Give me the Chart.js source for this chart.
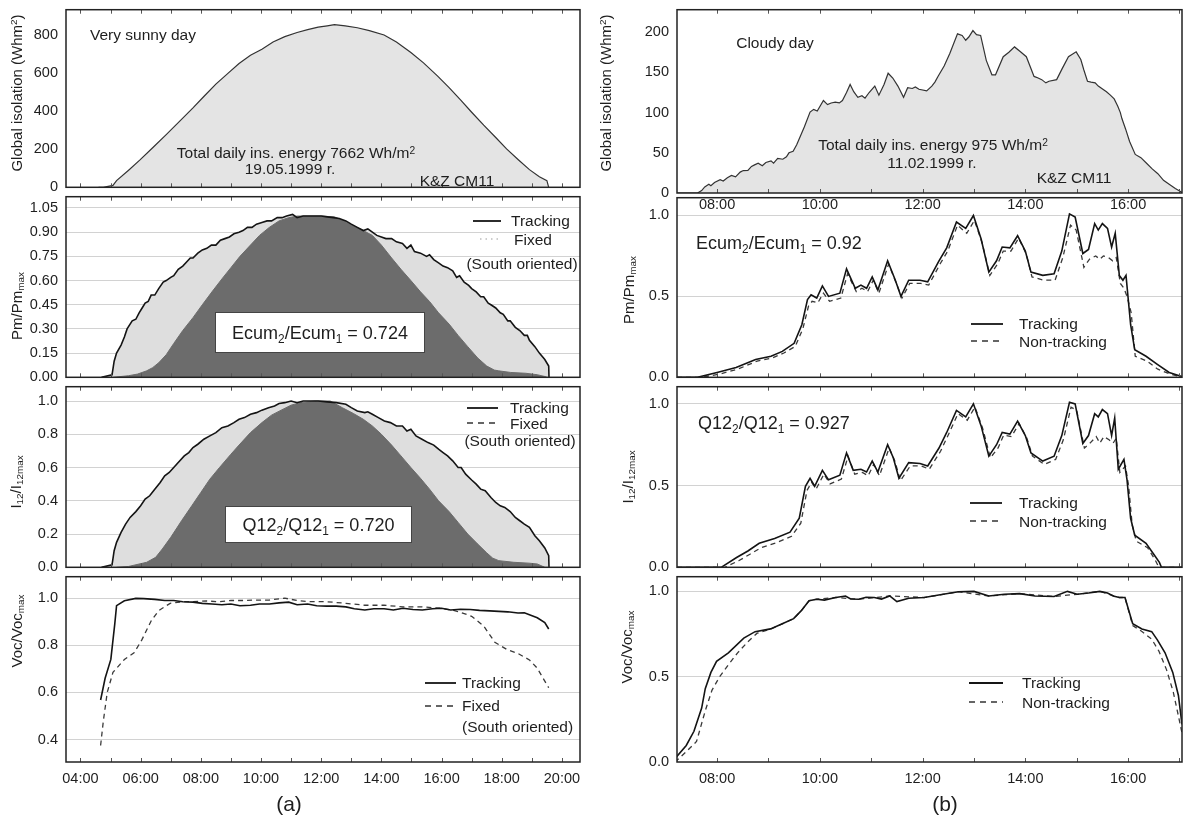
<!DOCTYPE html>
<html>
<head>
<meta charset="utf-8">
<title>Tracking vs fixed PV module — sunny and cloudy day</title>
<script src="https://cdn.jsdelivr.net/npm/chart.js@4.4.1/dist/chart.umd.min.js"></script>
<style>
  html, body { margin: 0; padding: 0; }
  body {
    width: 1187px; height: 819px; overflow: hidden; position: relative;
    background: #ffffff; color: #1e1e1e;
    font-family: "Liberation Sans", Arial, Helvetica, sans-serif;
  }
  canvas { position: absolute; }
  #labels { position: absolute; left: 0; top: 0; width: 1187px; height: 819px; z-index: 5; pointer-events: none; }
  .t { position: absolute; white-space: nowrap; line-height: 1; font-size: 15.5px; }
  .c { transform: translate(-50%, -50%); }
  .l { transform: translate(0, -50%); }
  .rot { transform: translate(-50%, -50%) rotate(-90deg); font-size: 15px; }
  .box {
    position: absolute; background: #fff; border: 1px solid #444;
    text-align: center; font-size: 18px; white-space: nowrap; box-sizing: border-box;
  }
  .box span { position: absolute; left: 50%; top: 50%; transform: translate(-50%, -50%); line-height: 1; }
  .big { font-size: 18px; }
  .tag { font-size: 21px; }
  sub { font-size: 0.66em; vertical-align: -0.3em; line-height: 0; }
  sup { font-size: 0.66em; vertical-align: 0.45em; line-height: 0; }
  svg.key { position: absolute; overflow: visible; }
</style>
</head>
<body>

<div id="labels">
  <!-- left column: very sunny day -->
  <div class="t rot" style="left:16px;top:93px">Global isolation (Whm<sup>2</sup>)</div>
  <div class="t rot" style="left:16px;top:306px">Pm/Pm<sub>max</sub></div>
  <div class="t rot" style="left:15px;top:482px">I<sub>12</sub>/I<sub>12max</sub></div>
  <div class="t rot" style="left:16px;top:631px">Voc/Voc<sub>max</sub></div>

  <div class="t c" style="left:143px;top:35px">Very sunny day</div>
  <div class="t c" style="left:296px;top:153px">Total daily ins. energy 7662 Wh/m<sup>2</sup></div>
  <div class="t c" style="left:290px;top:169px">19.05.1999 r.</div>
  <div class="t c" style="left:457px;top:181px">K&amp;Z CM11</div>

  <svg class="key" style="left:473px;top:219px" width="28" height="4"><line x1="0" y1="2" x2="28" y2="2" stroke="#151515" stroke-width="1.8"/></svg>
  <div class="t l" style="left:511px;top:221px">Tracking</div>
  <svg class="key" style="left:480px;top:237px" width="20" height="4"><line x1="0" y1="2" x2="20" y2="2" stroke="#bdbdbd" stroke-width="1.4" stroke-dasharray="1.5,4"/></svg>
  <div class="t c" style="left:533px;top:240px">Fixed</div>
  <div class="t c" style="left:522px;top:264px">(South oriented)</div>
  <div class="box" style="left:215px;top:312px;width:210px;height:41px"><span>Ecum<sub>2</sub>/Ecum<sub>1</sub> = 0.724</span></div>

  <svg class="key" style="left:467px;top:406px" width="31" height="4"><line x1="0" y1="2" x2="31" y2="2" stroke="#151515" stroke-width="1.8"/></svg>
  <div class="t l" style="left:510px;top:408px">Tracking</div>
  <svg class="key" style="left:467px;top:421px" width="31" height="4"><line x1="0" y1="2" x2="31" y2="2" stroke="#333" stroke-width="1.4" stroke-dasharray="6,5"/></svg>
  <div class="t l" style="left:510px;top:424px">Fixed</div>
  <div class="t c" style="left:520px;top:441px">(South oriented)</div>
  <div class="box" style="left:225px;top:506px;width:187px;height:37px"><span>Q12<sub>2</sub>/Q12<sub>1</sub> = 0.720</span></div>

  <svg class="key" style="left:425px;top:681px" width="31" height="4"><line x1="0" y1="2" x2="31" y2="2" stroke="#151515" stroke-width="1.8"/></svg>
  <div class="t l" style="left:462px;top:683px">Tracking</div>
  <svg class="key" style="left:425px;top:704px" width="31" height="4"><line x1="0" y1="2" x2="31" y2="2" stroke="#333" stroke-width="1.4" stroke-dasharray="6,5"/></svg>
  <div class="t l" style="left:462px;top:706px">Fixed</div>
  <div class="t l" style="left:462px;top:727px">(South oriented)</div>

  <div class="t c tag" style="left:289px;top:803px">(a)</div>

  <!-- right column: cloudy day -->
  <div class="t rot" style="left:605px;top:93px">Global isolation (Whm<sup>2</sup>)</div>
  <div class="t rot" style="left:628px;top:290px">Pm/Pm<sub>max</sub></div>
  <div class="t rot" style="left:627px;top:477px">I<sub>12</sub>/I<sub>12max</sub></div>
  <div class="t rot" style="left:626px;top:647px">Voc/Voc<sub>max</sub></div>

  <div class="t c" style="left:775px;top:43px">Cloudy day</div>
  <div class="t c" style="left:933px;top:145px">Total daily ins. energy 975 Wh/m<sup>2</sup></div>
  <div class="t c" style="left:932px;top:163px">11.02.1999 r.</div>
  <div class="t c" style="left:1074px;top:178px">K&amp;Z CM11</div>

  <div class="t l big" style="left:696px;top:243px">Ecum<sub>2</sub>/Ecum<sub>1</sub> = 0.92</div>
  <svg class="key" style="left:971px;top:322px" width="32" height="4"><line x1="0" y1="2" x2="32" y2="2" stroke="#151515" stroke-width="1.8"/></svg>
  <div class="t l" style="left:1019px;top:324px">Tracking</div>
  <svg class="key" style="left:971px;top:339px" width="32" height="4"><line x1="0" y1="2" x2="32" y2="2" stroke="#333" stroke-width="1.4" stroke-dasharray="6,5"/></svg>
  <div class="t l" style="left:1019px;top:342px">Non-tracking</div>

  <div class="t l big" style="left:698px;top:423px">Q12<sub>2</sub>/Q12<sub>1</sub> = 0.927</div>
  <svg class="key" style="left:970px;top:501px" width="32" height="4"><line x1="0" y1="2" x2="32" y2="2" stroke="#151515" stroke-width="1.8"/></svg>
  <div class="t l" style="left:1019px;top:503px">Tracking</div>
  <svg class="key" style="left:970px;top:519px" width="32" height="4"><line x1="0" y1="2" x2="32" y2="2" stroke="#333" stroke-width="1.4" stroke-dasharray="6,5"/></svg>
  <div class="t l" style="left:1019px;top:522px">Non-tracking</div>

  <svg class="key" style="left:969px;top:681px" width="34" height="4"><line x1="0" y1="2" x2="34" y2="2" stroke="#151515" stroke-width="1.8"/></svg>
  <div class="t l" style="left:1022px;top:683px">Tracking</div>
  <svg class="key" style="left:969px;top:700px" width="34" height="4"><line x1="0" y1="2" x2="34" y2="2" stroke="#333" stroke-width="1.4" stroke-dasharray="6,5"/></svg>
  <div class="t l" style="left:1022px;top:703px">Non-tracking</div>

  <div class="t c tag" style="left:945px;top:803px">(b)</div>
</div>

<script>
// ---- axis ticks ----
const sunHours = [4, 6, 8, 10, 12, 14, 16, 18, 20];
const cloudHours = [8, 10, 12, 14, 16];
const sunInsolTicks = [0, 200, 400, 600, 800];
const sunPmTicks = [0, 0.15, 0.30, 0.45, 0.60, 0.75, 0.90, 1.05];
const sunIscTicks = [0, 0.2, 0.4, 0.6, 0.8, 1.0];
const sunVocTicks = [0.4, 0.6, 0.8, 1.0];
const cloudInsolTicks = [0, 50, 100, 150, 200];
const cloudRatioTicks = [0, 0.5, 1.0];

// ---- very sunny day, 19.05.1999  [hour, value] ----
const sunInsolation = [[4.60,0],[4.76,0],[5.08,10],[5.20,35],[5.60,90],[5.97,143],[6.40,208],[6.85,277],[7.30,348],[7.74,418],[8.10,478],[8.50,543],[8.90,600],[9.27,652],[9.65,695],[10.03,727],[10.40,765],[10.79,793],[11.20,815],[11.55,830],[11.90,843],[12.20,850],[12.44,856],[12.80,850],[13.20,840],[13.60,825],[14.09,802],[14.50,765],[14.98,710],[15.40,655],[15.87,585],[16.25,525],[16.63,460],[17.00,395],[17.40,327],[17.80,262],[18.16,202],[18.55,145],[18.92,93],[19.25,55],[19.50,35],[19.56,0]];

const sunPmTracking = [[4.70,0],[5.05,0.015],[5.12,0.10],[5.20,0.15],[5.35,0.20],[5.46,0.25],[5.55,0.30],[5.65,0.33],[5.72,0.35],[5.84,0.36],[5.95,0.40],[6.05,0.43],[6.15,0.46],[6.25,0.47],[6.35,0.51],[6.47,0.51],[6.60,0.55],[6.75,0.59],[6.85,0.60],[7.00,0.62],[7.10,0.63],[7.25,0.67],[7.40,0.69],[7.55,0.72],[7.65,0.74],[7.74,0.74],[7.90,0.77],[8.05,0.79],[8.20,0.80],[8.35,0.82],[8.50,0.82],[8.65,0.85],[8.80,0.86],[8.95,0.87],[9.10,0.89],[9.27,0.90],[9.40,0.91],[9.55,0.93],[9.70,0.93],[9.85,0.95],[10.03,0.96],[10.20,0.97],[10.35,0.97],[10.54,0.99],[10.70,0.99],[10.85,1.00],[11.05,1.01],[11.20,0.99],[11.40,1.00],[11.60,1.00],[11.80,1.00],[12.00,1.00],[12.20,0.995],[12.40,0.99],[12.60,0.985],[12.82,0.97],[13.00,0.95],[13.20,0.93],[13.40,0.91],[13.55,0.92],[13.70,0.90],[13.85,0.88],[14.00,0.87],[14.15,0.86],[14.34,0.86],[14.50,0.84],[14.70,0.83],[14.85,0.80],[14.98,0.82],[15.10,0.78],[15.30,0.77],[15.50,0.75],[15.60,0.76],[15.74,0.73],[15.90,0.71],[16.05,0.69],[16.20,0.68],[16.37,0.66],[16.50,0.62],[16.60,0.63],[16.75,0.59],[16.90,0.57],[17.00,0.55],[17.15,0.53],[17.30,0.50],[17.40,0.50],[17.55,0.46],[17.64,0.45],[17.80,0.43],[17.95,0.40],[18.05,0.39],[18.20,0.35],[18.28,0.35],[18.45,0.31],[18.60,0.29],[18.75,0.26],[18.85,0.26],[18.92,0.23],[19.10,0.19],[19.25,0.15],[19.43,0.11],[19.56,0.07],[19.57,0]];

const sunPmFixed = [[5.10,0],[5.60,0.01],[5.90,0.02],[6.20,0.04],[6.40,0.06],[6.60,0.09],[6.85,0.14],[7.10,0.21],[7.40,0.29],[7.74,0.37],[8.05,0.45],[8.37,0.53],[8.70,0.61],[9.00,0.68],[9.30,0.75],[9.65,0.82],[9.95,0.88],[10.28,0.93],[10.60,0.97],[10.92,0.99],[11.20,1.00],[11.55,1.00],[12.00,1.00],[12.44,0.995],[12.75,0.97],[13.07,0.94],[13.40,0.91],[13.70,0.88],[14.00,0.82],[14.34,0.74],[14.65,0.67],[14.98,0.60],[15.30,0.53],[15.60,0.47],[15.90,0.40],[16.25,0.33],[16.55,0.26],[16.87,0.19],[17.20,0.12],[17.50,0.07],[17.75,0.045],[17.90,0.04],[18.30,0.03],[18.80,0.025],[19.18,0.016],[19.43,0.005],[19.50,0]];

const sunIscTracking = [[4.70,0],[5.05,0.015],[5.12,0.10],[5.20,0.15],[5.35,0.21],[5.50,0.26],[5.65,0.30],[5.84,0.335],[6.00,0.37],[6.15,0.41],[6.30,0.43],[6.47,0.47],[6.65,0.51],[6.80,0.55],[6.95,0.57],[7.10,0.60],[7.25,0.63],[7.45,0.67],[7.60,0.69],[7.74,0.72],[7.90,0.74],[8.10,0.77],[8.30,0.79],[8.50,0.81],[8.70,0.84],[8.90,0.85],[9.10,0.87],[9.27,0.89],[9.45,0.90],[9.65,0.92],[9.85,0.93],[10.03,0.945],[10.25,0.96],[10.45,0.97],[10.60,0.985],[10.79,0.99],[11.00,1.00],[11.20,0.99],[11.40,1.00],[11.55,1.00],[11.90,1.00],[12.20,0.995],[12.50,0.99],[12.82,0.98],[13.00,0.96],[13.20,0.94],[13.45,0.93],[13.55,0.935],[13.70,0.92],[13.90,0.90],[14.10,0.88],[14.30,0.87],[14.50,0.85],[14.70,0.85],[14.85,0.82],[14.98,0.83],[15.15,0.79],[15.35,0.77],[15.55,0.75],[15.74,0.735],[15.90,0.71],[16.05,0.69],[16.20,0.67],[16.37,0.64],[16.55,0.60],[16.65,0.60],[16.80,0.56],[17.00,0.525],[17.15,0.50],[17.30,0.47],[17.45,0.46],[17.64,0.42],[17.80,0.39],[17.95,0.37],[18.10,0.36],[18.28,0.335],[18.45,0.30],[18.60,0.28],[18.75,0.26],[18.92,0.24],[19.10,0.19],[19.25,0.16],[19.43,0.116],[19.56,0.07],[19.57,0]];

const sunIscFixed = [[5.20,0],[5.60,0.005],[6.20,0.03],[6.50,0.06],[6.72,0.11],[7.00,0.18],[7.36,0.28],[7.70,0.37],[8.00,0.45],[8.30,0.53],[8.62,0.60],[9.00,0.68],[9.27,0.735],[9.65,0.81],[10.03,0.87],[10.35,0.915],[10.67,0.945],[11.00,0.975],[11.30,0.99],[11.80,1.00],[12.30,1.00],[12.70,0.96],[13.07,0.925],[13.40,0.89],[13.70,0.85],[14.00,0.80],[14.34,0.735],[14.65,0.67],[14.98,0.60],[15.30,0.535],[15.60,0.47],[15.90,0.40],[16.25,0.335],[16.55,0.27],[16.87,0.20],[17.20,0.14],[17.50,0.087],[17.70,0.055],[17.90,0.04],[18.40,0.03],[18.90,0.025],[19.18,0.02],[19.43,0]];

const sunVocTracking = [[4.67,0.568],[4.82,0.66],[5.01,0.74],[5.14,0.89],[5.20,0.968],[5.46,0.989],[5.84,0.999],[6.10,0.998],[6.47,0.995],[6.80,0.99],[7.10,0.99],[7.40,0.985],[7.74,0.983],[8.05,0.978],[8.37,0.975],[8.70,0.972],[9.00,0.975],[9.30,0.968],[9.65,0.97],[9.95,0.975],[10.28,0.975],[10.60,0.98],[10.92,0.983],[11.20,0.972],[11.55,0.975],[11.85,0.968],[12.18,0.966],[12.50,0.966],[12.82,0.963],[13.10,0.955],[13.45,0.95],[13.75,0.955],[14.09,0.955],[14.40,0.95],[14.72,0.957],[15.05,0.952],[15.36,0.95],[15.70,0.955],[16.00,0.957],[16.30,0.95],[16.63,0.953],[16.95,0.952],[17.26,0.948],[17.60,0.946],[17.90,0.944],[18.20,0.942],[18.54,0.937],[18.75,0.938],[18.92,0.93],[19.18,0.917],[19.43,0.896],[19.56,0.869]];

const sunVocFixed = [[4.67,0.375],[4.76,0.478],[4.89,0.60],[5.08,0.685],[5.46,0.74],[5.78,0.768],[6.04,0.823],[6.36,0.906],[6.60,0.947],[6.98,0.978],[7.40,0.985],[7.74,0.985],[8.20,0.988],[8.60,0.985],[9.00,0.99],[9.40,0.99],[9.80,0.992],[10.28,0.992],[10.79,1.0],[11.20,0.99],[11.55,0.985],[12.18,0.985],[12.82,0.978],[13.45,0.97],[14.09,0.97],[14.72,0.963],[15.36,0.963],[16.00,0.957],[16.40,0.948],[16.63,0.94],[17.00,0.923],[17.40,0.882],[17.77,0.813],[18.16,0.783],[18.54,0.765],[18.92,0.738],[19.18,0.703],[19.43,0.648],[19.56,0.62]];

// ---- cloudy day, 11.02.1999  [hour, value] ----
const cloudInsolation = [[7.22,0],[7.62,0],[7.70,3],[7.76,7.6],[7.84,11],[7.88,9],[7.95,13],[8.06,16.6],[8.12,15],[8.20,19],[8.28,21.8],[8.36,20],[8.45,26],[8.51,27.9],[8.60,28],[8.67,33],[8.73,35],[8.80,37],[8.88,34],[8.95,38],[9.05,40],[9.10,37],[9.18,43],[9.28,42],[9.35,45],[9.40,50],[9.48,52],[9.55,60],[9.70,82.5],[9.81,100.7],[9.88,104],[9.95,102],[10.07,115],[10.15,110],[10.22,112],[10.30,113],[10.38,112],[10.44,115],[10.52,125],[10.59,135],[10.66,126],[10.74,119],[10.82,121],[10.88,118],[10.96,125],[11.07,133],[11.15,121.7],[11.25,135],[11.33,149],[11.42,143],[11.52,133],[11.63,119],[11.71,131],[11.80,130],[11.86,132],[11.93,129],[12.08,127],[12.18,133],[12.24,138],[12.30,145],[12.42,158],[12.53,173.5],[12.68,198],[12.77,196],[12.84,190],[12.90,194],[12.98,202],[13.05,197],[13.13,196],[13.24,165],[13.35,147],[13.42,147],[13.57,169.5],[13.68,175],[13.79,181.7],[13.90,176],[14.02,169.5],[14.17,145],[14.25,143],[14.32,141],[14.40,137],[14.46,139],[14.61,141],[14.72,155],[14.84,169.5],[14.99,175.6],[15.08,166],[15.14,153],[15.21,139],[15.28,138],[15.36,137],[15.42,133],[15.51,129],[15.58,126],[15.65,122],[15.73,117],[15.80,108],[15.85,100],[15.88,92.6],[15.95,80],[16.03,64],[16.14,48],[16.25,44],[16.36,37],[16.47,30],[16.58,24],[16.69,15.8],[16.80,11],[16.92,5.7],[17.07,0]];

const cloudPmTracking = [[7.22,0],[7.62,0],[8.00,0.03],[8.37,0.06],[8.75,0.11],[9.05,0.13],[9.27,0.16],[9.50,0.21],[9.65,0.325],[9.76,0.48],[9.83,0.51],[9.94,0.49],[10.05,0.565],[10.17,0.50],[10.39,0.52],[10.52,0.67],[10.69,0.55],[10.80,0.57],[10.91,0.55],[11.02,0.62],[11.13,0.54],[11.32,0.72],[11.47,0.60],[11.58,0.50],[11.73,0.60],[11.95,0.60],[12.10,0.59],[12.32,0.72],[12.47,0.80],[12.66,0.96],[12.84,0.92],[12.99,1.00],[13.14,0.855],[13.29,0.65],[13.44,0.72],[13.55,0.805],[13.70,0.80],[13.85,0.875],[14.00,0.78],[14.11,0.65],[14.34,0.63],[14.56,0.64],[14.71,0.78],[14.86,1.01],[14.97,0.99],[15.12,0.765],[15.23,0.79],[15.35,0.95],[15.42,0.91],[15.50,0.95],[15.60,0.92],[15.68,0.805],[15.75,0.89],[15.83,0.63],[15.90,0.60],[15.96,0.63],[16.05,0.325],[16.13,0.17],[16.35,0.13],[16.57,0.08],[16.80,0.03],[17.05,0.005]];

const cloudPmFixed = [[7.22,0],[7.70,0],[8.05,0.02],[8.40,0.05],[8.78,0.10],[9.08,0.12],[9.30,0.15],[9.52,0.19],[9.67,0.30],[9.78,0.44],[9.85,0.47],[9.96,0.46],[10.07,0.52],[10.19,0.47],[10.41,0.49],[10.54,0.64],[10.71,0.53],[10.82,0.55],[10.93,0.53],[11.04,0.60],[11.15,0.52],[11.34,0.70],[11.49,0.58],[11.60,0.49],[11.75,0.58],[11.97,0.58],[12.12,0.57],[12.34,0.70],[12.49,0.78],[12.68,0.94],[12.86,0.89],[13.01,0.97],[13.16,0.83],[13.31,0.63],[13.46,0.70],[13.57,0.78],[13.72,0.78],[13.87,0.86],[14.02,0.76],[14.13,0.62],[14.36,0.60],[14.58,0.60],[14.73,0.74],[14.88,0.94],[14.99,0.91],[15.14,0.68],[15.25,0.73],[15.37,0.75],[15.45,0.73],[15.52,0.75],[15.62,0.74],[15.70,0.72],[15.77,0.74],[15.85,0.58],[15.92,0.55],[15.98,0.50],[16.06,0.40],[16.14,0.13],[16.37,0.10],[16.58,0.05],[16.82,0.02],[17.05,0]];

const cloudIscTracking = [[7.22,0],[8.08,0],[8.38,0.06],[8.60,0.10],[8.82,0.147],[9.12,0.176],[9.42,0.215],[9.60,0.30],[9.72,0.496],[9.81,0.545],[9.90,0.496],[10.05,0.593],[10.17,0.535],[10.39,0.564],[10.52,0.70],[10.65,0.593],[10.80,0.60],[10.91,0.583],[11.02,0.65],[11.13,0.583],[11.32,0.75],[11.43,0.67],[11.54,0.545],[11.73,0.64],[11.95,0.635],[12.10,0.62],[12.32,0.73],[12.47,0.825],[12.66,0.96],[12.84,0.92],[12.99,1.00],[13.14,0.865],[13.29,0.68],[13.44,0.75],[13.55,0.825],[13.70,0.815],[13.85,0.894],[14.00,0.806],[14.11,0.70],[14.34,0.65],[14.56,0.68],[14.71,0.806],[14.86,1.01],[14.97,1.00],[15.12,0.758],[15.23,0.806],[15.35,0.94],[15.42,0.92],[15.50,0.965],[15.60,0.94],[15.68,0.806],[15.74,0.913],[15.81,0.60],[15.92,0.66],[15.98,0.535],[16.05,0.30],[16.13,0.196],[16.35,0.147],[16.50,0.08],[16.61,0.03],[16.65,0],[17.05,0]];

const cloudIscFixed = [[7.22,0],[8.15,0],[8.42,0.04],[8.64,0.08],[8.86,0.12],[9.15,0.15],[9.45,0.19],[9.63,0.27],[9.75,0.47],[9.84,0.52],[9.93,0.48],[10.08,0.57],[10.20,0.51],[10.42,0.54],[10.55,0.68],[10.68,0.57],[10.83,0.58],[10.94,0.56],[11.05,0.63],[11.16,0.56],[11.35,0.73],[11.46,0.65],[11.57,0.53],[11.76,0.62],[11.98,0.62],[12.13,0.60],[12.35,0.71],[12.50,0.81],[12.69,0.94],[12.87,0.90],[13.02,0.98],[13.17,0.85],[13.32,0.67],[13.47,0.73],[13.58,0.81],[13.73,0.80],[13.88,0.88],[14.03,0.79],[14.14,0.68],[14.37,0.63],[14.59,0.66],[14.74,0.78],[14.89,0.98],[15.00,0.96],[15.15,0.73],[15.26,0.76],[15.38,0.80],[15.45,0.76],[15.53,0.80],[15.63,0.78],[15.71,0.76],[15.77,0.79],[15.84,0.58],[15.95,0.62],[16.01,0.50],[16.08,0.26],[16.16,0.16],[16.38,0.12],[16.52,0.05],[16.60,0],[17.05,0]];

const cloudVocTracking = [[7.18,0.02],[7.40,0.097],[7.55,0.18],[7.70,0.316],[7.77,0.43],[7.88,0.525],[7.99,0.59],[8.22,0.64],[8.52,0.726],[8.74,0.764],[9.04,0.78],[9.27,0.81],[9.49,0.84],[9.64,0.887],[9.79,0.945],[9.94,0.954],[10.09,0.949],[10.31,0.964],[10.50,0.973],[10.60,0.955],[10.76,0.954],[10.90,0.965],[11.06,0.964],[11.20,0.955],[11.36,0.973],[11.50,0.94],[11.73,0.96],[12.03,0.964],[12.40,0.983],[12.70,0.998],[13.00,1.0],[13.29,0.973],[13.59,0.983],[13.89,0.987],[14.19,0.973],[14.56,0.97],[14.82,1.0],[15.01,0.983],[15.23,0.99],[15.45,1.0],[15.60,0.99],[15.71,0.973],[15.83,0.964],[15.94,0.964],[16.09,0.81],[16.27,0.78],[16.46,0.764],[16.57,0.716],[16.72,0.64],[16.87,0.525],[16.98,0.39],[17.05,0.22]];

const cloudVocFixed = [[7.18,0],[7.40,0.06],[7.60,0.12],[7.77,0.30],[7.90,0.42],[8.05,0.50],[8.22,0.57],[8.40,0.64],[8.60,0.705],[8.78,0.755],[9.04,0.778],[9.27,0.81],[9.49,0.84],[9.64,0.887],[9.79,0.945],[9.94,0.954],[10.31,0.964],[10.76,0.954],[11.36,0.973],[12.03,0.964],[12.70,0.998],[13.29,0.973],[13.89,0.987],[14.56,0.97],[15.01,0.983],[15.45,1.0],[15.83,0.964],[15.94,0.964],[16.09,0.80],[16.27,0.765],[16.46,0.72],[16.60,0.65],[16.75,0.54],[16.88,0.41],[16.98,0.27],[17.05,0.17]];

// ---- drawing ----
const FONT = '"Liberation Sans", Arial, Helvetica, sans-serif';
const INK = '#1e1e1e';
const COLS = {
  L: { left: 0, width: 590, axisW: 66, padR: 10, xMin: 3.52, xMax: 20.6 },
  R: { left: 590, width: 597, axisW: 87, padR: 5, xMin: 7.22, xMax: 17.05 }
};
const PAD_T = 12;

const pts = arr => arr.map(([x, y]) => ({ x, y }));
const hourLabel = v => (v < 10 ? '0' : '') + v + ':00';

// frame around the plot area plus short inward hour ticks on top and bottom edges
const framePlugin = {
  id: 'panelFrame',
  afterDraw(chart, args, opts) {
    const { ctx, chartArea: a, scales: { x } } = chart;
    ctx.save();
    ctx.strokeStyle = '#555';
    ctx.lineWidth = 1;
    ctx.beginPath();
    for (let h = Math.ceil(x.min); h <= x.max; h++) {
      const px = Math.round(x.getPixelForValue(h)) + 0.5;
      ctx.moveTo(px, a.bottom); ctx.lineTo(px, a.bottom - 4);
      if (!opts.noTopTicks) { ctx.moveTo(px, a.top); ctx.lineTo(px, a.top + 4); }
    }
    ctx.stroke();
    ctx.strokeStyle = '#222';
    ctx.lineWidth = 1.5;
    ctx.strokeRect(a.left, a.top, a.right - a.left, a.bottom - a.top);
    ctx.restore();
  }
};

const areaLine = (data) => ({
  data: pts(data), fill: 'origin', backgroundColor: '#e4e4e4',
  borderColor: '#333', borderWidth: 1.2, order: 1
});
const solid = (data) => ({
  data: pts(data), fill: false, borderColor: '#141414', borderWidth: 1.6, order: 0
});
const dashed = (data) => ({
  data: pts(data), fill: false, borderColor: '#3a3a3a', borderWidth: 1.3,
  borderDash: [5, 4], order: 1
});
const lightFill = (data) => ({
  data: pts(data), fill: 'origin', backgroundColor: '#dedede', borderWidth: 0, order: 3
});
const darkFill = (data) => ({
  data: pts(data), fill: 'origin', backgroundColor: '#6c6c6c',
  borderColor: '#6c6c6c', borderWidth: 1, order: 2
});

function panel(spec) {
  const col = COLS[spec.col];
  const xH = spec.hours ? spec.xH : 12;
  const cv = document.createElement('canvas');
  cv.width = col.width;
  cv.height = PAD_T + (spec.bottom - spec.top) + xH;
  cv.style.left = col.left + 'px';
  cv.style.top = (spec.top - PAD_T) + 'px';
  document.body.insertBefore(cv, document.getElementById('labels'));

  new Chart(cv, {
    type: 'line',
    data: { datasets: spec.datasets },
    options: {
      responsive: false,
      animation: false,
      devicePixelRatio: 1,
      layout: { padding: { top: PAD_T, right: col.padR, bottom: 0, left: 0 } },
      plugins: {
        legend: { display: false }, tooltip: { enabled: false },
        panelFrame: { noTopTicks: !!spec.noTopTicks }
      },
      elements: { point: { radius: 0 }, line: { tension: 0 } },
      scales: {
        x: {
          type: 'linear', min: col.xMin, max: col.xMax,
          grid: { display: false, drawTicks: false },
          border: { display: false },
          ticks: {
            display: !!spec.hours, padding: spec.xPad || 8, maxRotation: 0, autoSkip: false,
            color: INK, font: { family: FONT, size: 14.5 }, callback: hourLabel
          },
          afterBuildTicks: s => { s.ticks = (spec.hours || []).map(v => ({ value: v })); },
          afterFit: s => { s.height = xH; }
        },
        y: {
          min: spec.yMin, max: spec.yMax,
          border: { display: false },
          grid: {
            display: !!spec.grid, drawTicks: false, lineWidth: 1,
            color: c => (c.tick && c.tick.value === spec.yMin) ? 'rgba(0,0,0,0)' : '#d2d2d2'
          },
          ticks: {
            padding: 8, color: INK, font: { family: FONT, size: 14.5 },
            callback: v => v.toFixed(spec.dec)
          },
          afterBuildTicks: s => { s.ticks = spec.yTicks.map(v => ({ value: v })); },
          afterFit: s => { s.width = col.axisW; }
        }
      }
    },
    plugins: [framePlugin]
  });
}

// left column — very sunny day
panel({ col: 'L', top: 5, bottom: 192, yMin: 0, yMax: 935, yTicks: sunInsolTicks, dec: 0,
        datasets: [areaLine(sunInsolation)] });
panel({ col: 'L', top: 192, bottom: 382, yMin: 0, yMax: 1.12, yTicks: sunPmTicks, dec: 2, grid: true,
        datasets: [solid(sunPmTracking), darkFill(sunPmFixed), lightFill(sunPmTracking)] });
panel({ col: 'L', top: 382, bottom: 572, yMin: 0, yMax: 1.086, yTicks: sunIscTicks, dec: 1, grid: true,
        datasets: [solid(sunIscTracking), darkFill(sunIscFixed), lightFill(sunIscTracking)] });
panel({ col: 'L', top: 572, bottom: 762, yMin: 0.305, yMax: 1.091, yTicks: sunVocTicks, dec: 1, grid: true,
        hours: sunHours, xH: 30, xPad: 8,
        datasets: [solid(sunVocTracking), dashed(sunVocFixed)] });

// right column — cloudy day
panel({ col: 'R', top: 5, bottom: 193, yMin: 0, yMax: 228, yTicks: cloudInsolTicks, dec: 0,
        hours: cloudHours, xH: 26, xPad: 3,
        datasets: [areaLine(cloudInsolation)] });
panel({ col: 'R', top: 193, bottom: 382, yMin: 0, yMax: 1.11, yTicks: cloudRatioTicks, dec: 1, grid: true,
        noTopTicks: true,
        datasets: [solid(cloudPmTracking), dashed(cloudPmFixed)] });
panel({ col: 'R', top: 382, bottom: 572, yMin: 0, yMax: 1.105, yTicks: cloudRatioTicks, dec: 1, grid: true,
        datasets: [solid(cloudIscTracking), dashed(cloudIscFixed)] });
panel({ col: 'R', top: 572, bottom: 762, yMin: 0, yMax: 1.086, yTicks: cloudRatioTicks, dec: 1, grid: true,
        hours: cloudHours, xH: 30, xPad: 8,
        datasets: [solid(cloudVocTracking), dashed(cloudVocFixed)] });
</script>
</body>
</html>
